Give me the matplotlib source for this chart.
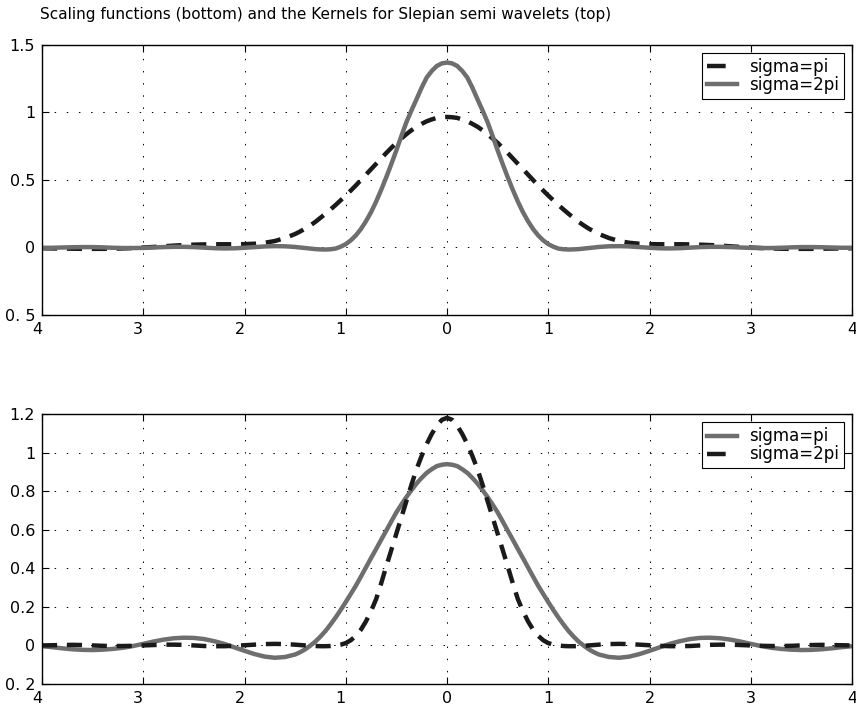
import numpy as np
import matplotlib
matplotlib.use("Agg")
import matplotlib.pyplot as plt
from matplotlib.lines import Line2D

plt.rcParams['font.family'] = ['DejaVu Sans']

# sample positions: step 0.1 on the tails, 0.05 around the peaks
x = np.round(np.concatenate([np.arange(-40, -15) / 10.0,
                             np.arange(-30, 31) / 20.0,
                             np.arange(16, 41) / 10.0]), 2)

# top panel: kernels
kernel_pi = [-0.006, -0.007, -0.008, -0.009, -0.010, -0.010, -0.010, -0.009, -0.007, -0.004,
             0.000, 0.004, 0.009, 0.014, 0.018, 0.021, 0.023, 0.024, 0.024, 0.024,
             0.025, 0.028, 0.035, 0.048, 0.070,
             0.100, 0.119, 0.140, 0.164, 0.190, 0.220, 0.250, 0.282, 0.315, 0.350,
             0.385, 0.422, 0.460, 0.500, 0.540, 0.580, 0.620, 0.660, 0.700, 0.738,
             0.775, 0.808, 0.840, 0.869, 0.895, 0.916, 0.935, 0.949, 0.960, 0.965,
             0.967,
             0.965, 0.960, 0.949, 0.935, 0.916, 0.895, 0.869, 0.840, 0.808, 0.775,
             0.738, 0.700, 0.660, 0.620, 0.580, 0.540, 0.500, 0.460, 0.422, 0.385,
             0.350, 0.315, 0.282, 0.250, 0.220, 0.190, 0.164, 0.140, 0.119, 0.100,
             0.070, 0.048, 0.035, 0.028, 0.025,
             0.024, 0.024, 0.024, 0.023, 0.021, 0.018, 0.014, 0.009, 0.004, 0.000,
             -0.004, -0.007, -0.009, -0.010, -0.010, -0.010, -0.009, -0.008, -0.007, -0.006]

kernel_2pi = [-0.002, -0.002, 0.000, 0.002, 0.003, 0.003, 0.001, -0.002, -0.004, -0.004,
              -0.003, 0.000, 0.003, 0.005, 0.005, 0.003, -0.001, -0.005, -0.007, -0.006,
              -0.002, 0.003, 0.008, 0.010, 0.009,
              0.004, 0.000, -0.004, -0.008, -0.012, -0.014, -0.015, -0.013, -0.008, 0.006,
              0.025, 0.053, 0.090, 0.137, 0.195, 0.262, 0.340, 0.427, 0.520, 0.618,
              0.720, 0.827, 0.930, 1.017, 1.100, 1.185, 1.260, 1.308, 1.345, 1.364,
              1.370,
              1.364, 1.345, 1.308, 1.260, 1.185, 1.100, 1.017, 0.930, 0.827, 0.720,
              0.618, 0.520, 0.427, 0.340, 0.262, 0.195, 0.137, 0.090, 0.053, 0.025,
              0.006, -0.008, -0.013, -0.015, -0.014, -0.012, -0.008, -0.004, 0.000, 0.004,
              0.009, 0.010, 0.008, 0.003, -0.002,
              -0.006, -0.007, -0.005, -0.001, 0.003, 0.005, 0.005, 0.003, 0.000, -0.003,
              -0.004, -0.004, -0.002, 0.001, 0.003, 0.003, 0.002, 0.000, -0.002, -0.002]

# bottom panel: scaling functions
scaling_pi = [-0.004, -0.009, -0.015, -0.020, -0.023, -0.024, -0.022, -0.018, -0.012, -0.003,
              0.008, 0.020, 0.030, 0.037, 0.040, 0.039, 0.033, 0.022, 0.008, -0.010,
              -0.028, -0.045, -0.058, -0.064, -0.060,
              -0.047, -0.035, -0.020, -0.001, 0.020, 0.046, 0.075, 0.109, 0.145, 0.184,
              0.225, 0.267, 0.310, 0.357, 0.405, 0.453, 0.500, 0.548, 0.595, 0.643,
              0.690, 0.731, 0.770, 0.806, 0.840, 0.869, 0.895, 0.914, 0.930, 0.937,
              0.940,
              0.937, 0.930, 0.914, 0.895, 0.869, 0.840, 0.806, 0.770, 0.731, 0.690,
              0.643, 0.595, 0.548, 0.500, 0.453, 0.405, 0.357, 0.310, 0.267, 0.225,
              0.184, 0.145, 0.109, 0.075, 0.046, 0.020, -0.001, -0.020, -0.035, -0.047,
              -0.060, -0.064, -0.058, -0.045, -0.028,
              -0.010, 0.008, 0.022, 0.033, 0.039, 0.040, 0.037, 0.030, 0.020, 0.008,
              -0.003, -0.012, -0.018, -0.022, -0.024, -0.023, -0.020, -0.015, -0.009, -0.004]

scaling_2pi = [0.000, 0.001, 0.002, 0.003, 0.002, 0.000, -0.002, -0.003, -0.003, -0.002,
               0.000, 0.002, 0.004, 0.004, 0.003, 0.000, -0.003, -0.004, -0.004, -0.002,
               0.001, 0.004, 0.007, 0.008, 0.007,
               0.004, 0.002, 0.000, -0.002, -0.003, -0.004, -0.004, -0.003, 0.000, 0.004,
               0.012, 0.027, 0.050, 0.082, 0.125, 0.178, 0.240, 0.322, 0.410, 0.495,
               0.580, 0.665, 0.750, 0.835, 0.915, 0.983, 1.045, 1.097, 1.140, 1.170,
               1.180,
               1.170, 1.140, 1.097, 1.045, 0.983, 0.915, 0.835, 0.750, 0.665, 0.580,
               0.495, 0.410, 0.322, 0.240, 0.178, 0.125, 0.082, 0.050, 0.027, 0.012,
               0.004, 0.000, -0.003, -0.004, -0.004, -0.003, -0.002, 0.000, 0.002, 0.004,
               0.007, 0.008, 0.007, 0.004, 0.001,
               -0.002, -0.004, -0.004, -0.003, 0.000, 0.003, 0.004, 0.004, 0.002, 0.000,
               -0.002, -0.003, -0.003, -0.002, 0.000, 0.002, 0.003, 0.002, 0.001, 0.000]

xticks = [-4, -3, -2, -1, 0, 1, 2, 3, 4]
xticklabels = ["4", "3", "2", "1", "0", "1", "2", "3", "4"]
top_yticks = [-0.5, 0, 0.5, 1, 1.5]
top_yticklabels = ["0. 5", "0", "0.5", "1", "1.5"]
bot_yticks = [-0.2, 0, 0.2, 0.4, 0.6, 0.8, 1, 1.2]
bot_yticklabels = ["0. 2", "0", "0.2", "0.4", "0.6", "0.8", "1", "1.2"]

title = "Scaling functions (bottom) and the Kernels for Slepian semi wavelets (top)"

GRAY = "#6e6e6e"
DARK = "#1a1a1a"
LW = 3.2
dash = (0, (3.4, 2.2))

W, H = 856, 711
fig = plt.figure(figsize=(W / 100, H / 100), dpi=100)
ax1 = fig.add_axes([42 / W, 1 - 315 / H, 810 / W, 270 / H])
ax2 = fig.add_axes([42 / W, 1 - 684 / H, 810 / W, 270 / H])


def style(ax, yticks, yticklabels, ylim):
    ax.set_xlim(-4, 4)
    ax.set_ylim(*ylim)
    ax.set_xticks(xticks)
    ax.set_xticklabels(xticklabels)
    for t, v in zip(ax.get_xticklabels(), xticks):
        if v < 0:
            t.set_ha("right")
    ax.set_yticks(yticks)
    ax.set_yticklabels(yticklabels)
    ax.tick_params(direction="in", length=5, width=0.8, top=True, right=True,
                   labelsize=11.5, colors="black")
    ax.tick_params(axis="x", pad=5)
    ax.tick_params(axis="y", pad=5)
    ax.grid(True, color="black", linewidth=0.7, linestyle=(0, (1.5, 11)))
    for s in ax.spines.values():
        s.set_linewidth(1.0)
        s.set_color("black")
    ax.set_axisbelow(True)


def legend(ax, styles, labels):
    # legend keys like the original: one short dash for the dashed curve
    handles = []
    for color, ls in styles:
        if ls == "dash":
            handles.append(Line2D([], [], color=color, lw=LW, linestyle=(0, (4.2, 20))))
        else:
            handles.append(Line2D([], [], color=color, lw=LW))
    leg = ax.legend(handles, labels, loc="upper right", fontsize=12, frameon=True,
                    fancybox=False, framealpha=1, edgecolor="black",
                    borderaxespad=0.5, handlelength=1.8, handletextpad=0.7,
                    borderpad=0.3, labelspacing=0.0)
    leg.get_frame().set_linewidth(0.8)


ax1.plot(x, kernel_pi, color=DARK, lw=LW, linestyle=dash)
ax1.plot(x, kernel_2pi, color=GRAY, lw=LW)
style(ax1, top_yticks, top_yticklabels, (-0.5, 1.5))
legend(ax1, [(DARK, "dash"), (GRAY, "solid")], ["sigma=pi", "sigma=2pi"])

ax2.plot(x, scaling_pi, color=GRAY, lw=LW)
ax2.plot(x, scaling_2pi, color=DARK, lw=LW, linestyle=dash)
style(ax2, bot_yticks, bot_yticklabels, (-0.2, 1.2))
legend(ax2, [(GRAY, "solid"), (DARK, "dash")], ["sigma=pi", "sigma=2pi"])

fig.text(40 / W, 1 - 15 / H, title, fontsize=11, ha="left", va="center")

fig.savefig("out.png", dpi=100)
